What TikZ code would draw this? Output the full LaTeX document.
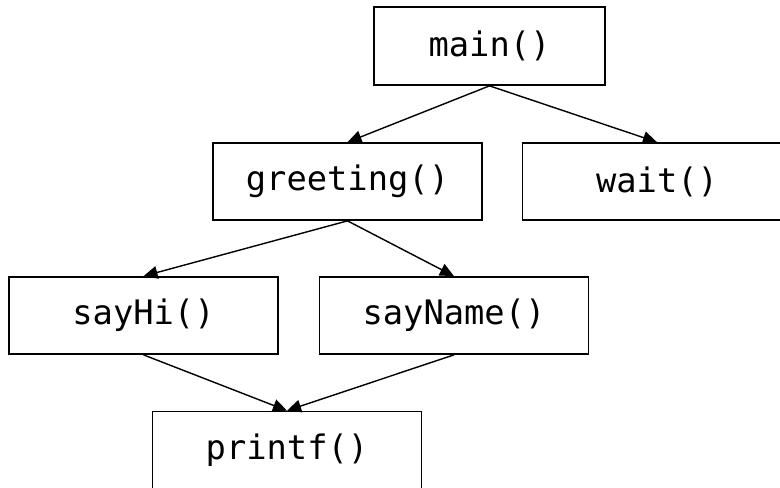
\documentclass[tikz,border=0pt]{standalone}
\usepackage{fontspec}
\setmonofont{DejaVu Sans Mono}
\usepackage{tikz}
\usetikzlibrary{arrows.meta}

\begin{document}
\begin{tikzpicture}[x=0.025cm, y=-0.025cm,
            func/.style={shape=rectangle, draw, line width=1.2pt, minimum width=6.725cm, minimum height=1.925cm,
                font=\ttfamily\fontsize{24}{28}\selectfont},
            call/.style={line width=1pt, -{Triangle[length=10pt, width=9pt]}}]
        \useasboundingbox (0,0) rectangle (780,487);

        \node[func, minimum width=5.775cm, minimum height=1.95cm] (main) at (489.5,46) {main()};
        \node[func] (greeting) at (347.5,181.5) {greeting()};
        \node[func] (wait) at (657,181.5) {wait()};
        \node[func] (sayhi) at (143.5,315.5) {sayHi()};
        \node[func] (sayname) at (454,315.5) {sayName()};
        \node[func] (printf) at (287,450) {printf()};

        \draw[call] (main.south) -- (greeting.north);
        \draw[call] (main.south) -- (wait.north);
        \draw[call] (greeting.south) -- (sayhi.north);
        \draw[call] (greeting.south) -- (sayname.north);
        \draw[call] (sayhi.south) -- (printf.north);
        \draw[call] (sayname.south) -- (printf.north);
    \end{tikzpicture}
\end{document}
